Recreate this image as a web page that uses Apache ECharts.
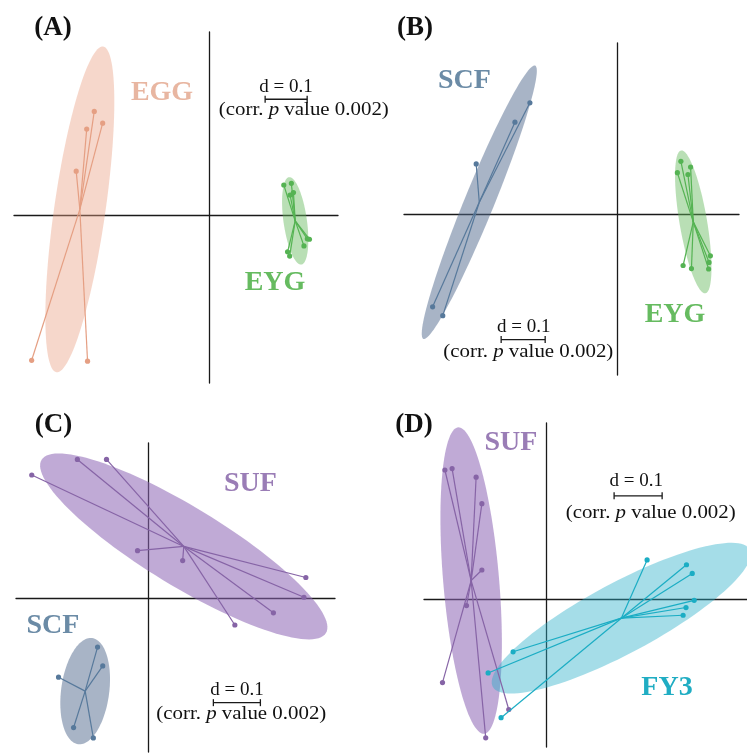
<!DOCTYPE html>
<html><head><meta charset="utf-8">
<script src="https://cdn.jsdelivr.net/npm/echarts@6/dist/echarts.min.js"></script>
<style>html,body{margin:0;padding:0;background:#fff}#c{width:747px;height:753px}</style>
</head><body><div id="c"></div>
<script>
// ---- Data (ordination coordinates; scale bar d = 0.1) ----
const A_EGG = [[-0.274,0.248],[-0.254,0.220],[-0.292,0.206],[-0.317,0.106],[-0.423,-0.344],[-0.290,-0.346]];
const A_EYG = [[0.177,0.073],[0.195,0.077],[0.192,0.049],[0.200,0.055],[0.238,-0.056],[0.233,-0.055],[0.225,-0.072],[0.186,-0.086],[0.191,-0.096]];
const B_SCF = [[-0.199,0.254],[-0.233,0.210],[-0.321,0.115],[-0.420,-0.210],[-0.397,-0.230]];
const B_EYG = [[0.144,0.121],[0.166,0.108],[0.136,0.095],[0.160,0.091],[0.211,-0.094],[0.208,-0.109],[0.207,-0.124],[0.149,-0.116],[0.168,-0.123]];
const C_SUF = [[-0.248,0.262],[-0.151,0.295],[-0.089,0.295],[-0.023,0.101],[0.073,0.080],[0.335,0.044],[0.331,0.002],[0.266,-0.031],[0.184,-0.057]];
const C_SCF = [[-0.108,-0.104],[-0.097,-0.144],[-0.191,-0.168],[-0.159,-0.275],[-0.117,-0.297]];
const D_SUF = [[-0.210,0.269],[-0.195,0.272],[-0.145,0.254],[-0.133,0.199],[-0.133,0.061],[-0.165,-0.013],[-0.215,-0.173],[-0.077,-0.229],[-0.125,-0.288]];
const D_FY3 = [[0.211,0.082],[0.293,0.072],[0.305,0.054],[0.309,-0.002],[0.292,-0.017],[0.286,-0.033],[-0.068,-0.109],[-0.120,-0.153],[-0.093,-0.246]];
const panelLetters = ['(A)','(B)','(C)','(D)'];
const scaleLabel = 'd = 0.1';
const pLabel = '(corr. {i|p} value 0.002)';
const scaleLength = 0.1;
const cEllipse = 1.5;

// ---- Styles ----
const COL = {
  EGG:{line:'#E59F83', fill:'rgba(234,160,130,0.42)', text:'#E8B6A1'},
  EYG:{line:'#55B353', fill:'rgba(100,185,90,0.45)', text:'#66BB60'},
  SCF:{line:'#57799B', fill:'rgba(82,106,142,0.5)', text:'#6B8BA6'},
  SUF:{line:'#8664A6', fill:'rgba(140,100,180,0.55)', text:'#9A7DB6'},
  FY3:{line:'#1BADC4', fill:'rgba(40,175,200,0.42)', text:'#20ADC3'}
};

const panels = [
  {grid:{left:14,top:32,width:324,height:351}, xr:[-0.465,0.306], yr:[-0.398,0.437],
   groups:[['EGG',A_EGG],['EYG',A_EYG]], bar:[0.1326,0.277]},
  {grid:{left:404,top:43,width:335,height:332}, xr:[-0.485,0.276], yr:[-0.365,0.390],
   groups:[['SCF',B_SCF],['EYG',B_EYG]], bar:[-0.2643,-0.2844]},
  {grid:{left:16,top:443,width:319,height:309}, xr:[-0.2815,0.397], yr:[-0.327,0.330],
   groups:[['SUF',C_SUF],['SCF',C_SCF]], bar:[0.1383,-0.2221]},
  {grid:{left:424,top:423,width:323,height:324}, xr:[-0.2535,0.419], yr:[-0.307,0.3667],
   groups:[['SUF',D_SUF],['FY3',D_FY3]], bar:[0.1423,0.2152]}
];

function stats(pts){
  const n=pts.length;
  let mx=0,my=0; pts.forEach(p=>{mx+=p[0];my+=p[1];}); mx/=n; my/=n;
  let vx=0,vy=0,cxy=0;
  pts.forEach(p=>{const dx=p[0]-mx,dy=p[1]-my; vx+=dx*dx; vy+=dy*dy; cxy+=dx*dy;});
  vx/=n; vy/=n; cxy/=n;
  return {mx,my,vx,vy,cxy};
}
function ellipsePoly(pts){
  const s=stats(pts);
  const tr=s.vx+s.vy, det=s.vx*s.vy-s.cxy*s.cxy;
  const d=Math.sqrt(Math.max(0,tr*tr/4-det));
  const l1=tr/2+d, l2=Math.max(0,tr/2-d);
  let v1;
  if (Math.abs(s.cxy)>1e-12) v1=[l1-s.vy, s.cxy]; else v1 = s.vx>=s.vy?[1,0]:[0,1];
  const nrm=Math.hypot(v1[0],v1[1]); v1=[v1[0]/nrm,v1[1]/nrm];
  const v2=[-v1[1],v1[0]];
  const a=cEllipse*Math.sqrt(l1), b=cEllipse*Math.sqrt(l2);
  const out=[];
  for(let i=0;i<120;i++){
    const t=i/120*2*Math.PI, ca=Math.cos(t)*a, sb=Math.sin(t)*b;
    out.push([s.mx+ca*v1[0]+sb*v2[0], s.my+ca*v1[1]+sb*v2[1]]);
  }
  return out;
}

const grid=[],xAxis=[],yAxis=[],series=[];
const axisLine={show:true,onZero:true,lineStyle:{color:'#1a1a1a',width:1.3}};
panels.forEach((p,gi)=>{
  grid.push(Object.assign({containLabel:false},p.grid));
  xAxis.push({type:'value',gridIndex:gi,min:p.xr[0],max:p.xr[1],axisLine,axisTick:{show:false},axisLabel:{show:false},splitLine:{show:false}});
  yAxis.push({type:'value',gridIndex:gi,min:p.yr[0],max:p.yr[1],axisLine,axisTick:{show:false},axisLabel:{show:false},splitLine:{show:false}});
  p.groups.forEach(([name,pts])=>{
    const poly=ellipsePoly(pts);
    series.push({type:'custom',xAxisIndex:gi,yAxisIndex:gi,z:1,silent:true,data:[[0,0]],
      renderItem:(params,api)=>({type:'polygon',shape:{points:poly.map(q=>api.coord(q))},style:{fill:COL[name].fill}})});
  });
  p.groups.forEach(([name,pts])=>{
    const s=stats(pts); const cen=[s.mx,s.my]; const col=COL[name].line;
    series.push({type:'custom',xAxisIndex:gi,yAxisIndex:gi,z:3,silent:true,data:pts,
      renderItem:(params,api)=>{
        const q=api.coord([api.value(0),api.value(1)]);
        const c=api.coord(cen);
        return {type:'group',children:[
          {type:'line',shape:{x1:c[0],y1:c[1],x2:q[0],y2:q[1]},style:{stroke:col,lineWidth:1.2}},
          {type:'circle',shape:{cx:q[0],cy:q[1],r:2.6},style:{fill:col}}
        ]};
      }});
  });
  series.push({type:'custom',xAxisIndex:gi,yAxisIndex:gi,z:4,silent:true,data:[p.bar],
    renderItem:(params,api)=>{
      const a=api.coord([api.value(0),api.value(1)]);
      const b=api.coord([api.value(0)+scaleLength,api.value(1)]);
      const st={stroke:'#1a1a1a',lineWidth:1.3};
      return {type:'group',children:[
        {type:'line',shape:{x1:a[0],y1:a[1],x2:b[0],y2:b[1]},style:st},
        {type:'line',shape:{x1:a[0],y1:a[1]-3.5,x2:a[0],y2:a[1]+3.5},style:st},
        {type:'line',shape:{x1:b[0],y1:b[1]-3.5,x2:b[0],y2:b[1]+3.5},style:st}
      ]};
    }});
});

const SERIF='"Liberation Serif","DejaVu Serif",serif';
function txt(x,y,text,font,fill){
  return {type:'text',x,y,z:10,style:{text,font,fill,textAlign:'center',textVerticalAlign:'middle'}};
}
const big='bold 28px '+SERIF, letter='bold 27px '+SERIF, small='19px '+SERIF;
const graphic=[
  txt(53,28.5,panelLetters[0],letter,'#111'),
  txt(415,28,panelLetters[1],letter,'#111'),
  txt(53.5,425,panelLetters[2],letter,'#111'),
  txt(414,425,panelLetters[3],letter,'#111'),
  txt(162,93,'EGG',big,COL.EGG.text),
  txt(275,283,'EYG',big,COL.EYG.text),
  txt(464.5,81,'SCF',big,COL.SCF.text),
  txt(675,315,'EYG',big,COL.EYG.text),
  txt(250.5,484,'SUF',big,COL.SUF.text),
  txt(53,626,'SCF',big,COL.SCF.text),
  txt(511,442.5,'SUF',big,COL.SUF.text),
  txt(667,687.5,'FY3',big,COL.FY3.text)
];
// scale bar labels: [d-label centre x, baseline y, p-label centre x, baseline y]
const scaleTexts=[[286,93.3,303.8,116.7],[523.8,333.3,528.3,358.3],[237,696,241.3,720],[636.3,487.7,650.7,519.3]];
scaleTexts.forEach(([dx,dy,cx,cy])=>{
  graphic.push(txt(dx,dy-6.3,scaleLabel,small,'#111'));
  graphic.push({type:'text',x:cx,y:cy-6.3,z:10,scaleX:1.1,style:{
    text:pLabel,font:small,fill:'#111',textAlign:'center',textVerticalAlign:'middle',
    rich:{i:{fontStyle:'italic',fontFamily:'"Liberation Serif",serif',fontSize:19,fill:'#111'}}}});
});

const chart=echarts.init(document.getElementById('c'),null,{renderer:'canvas'});
chart.setOption({animation:false,backgroundColor:'#fff',grid,xAxis,yAxis,series,graphic});
</script>
</body></html>
